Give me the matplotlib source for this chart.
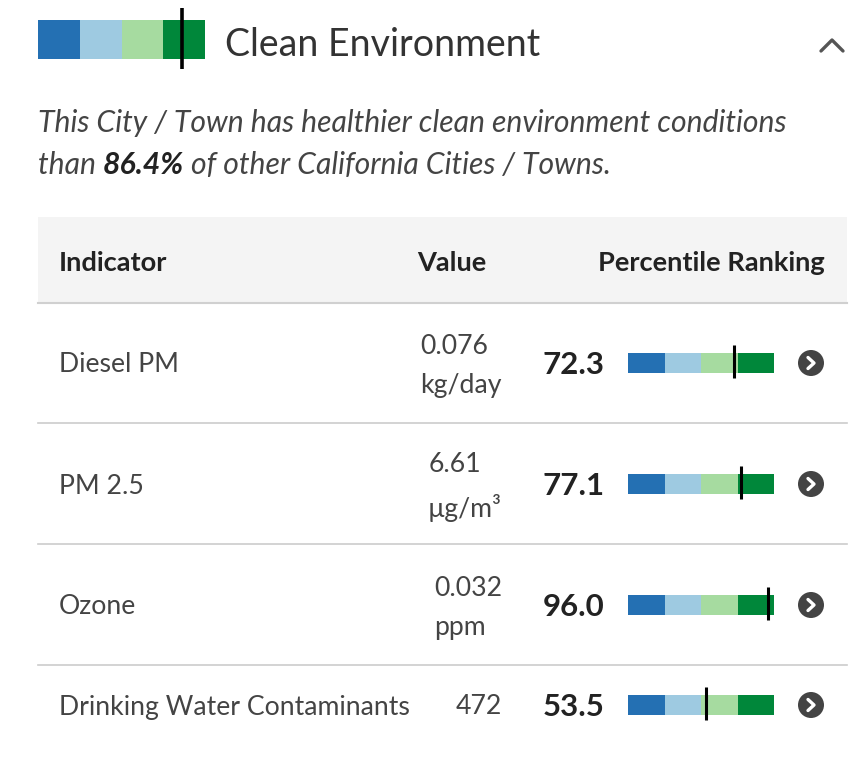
import matplotlib
matplotlib.use("Agg")
import matplotlib.pyplot as plt
from matplotlib.patches import Rectangle, Circle
from matplotlib.lines import Line2D

plt.rcParams['font.family'] = ['Lato', 'DejaVu Sans']

# ---- data ----
title = "Clean Environment"
overall_pct = 86.4
indicators = ["Diesel PM", "PM 2.5", "Ozone", "Drinking Water Contaminants"]
values = ["0.076", "6.61", "0.032", "472"]
units = ["kg/day", "µg/m³", "ppm", ""]
percentiles = [72.3, 77.1, 96.0, 53.5]
seg_colors = ["#2470b3", "#9ecae1", "#a6dba0", "#00873a"]

W, H = 865, 772
fig = plt.figure(figsize=(W / 100, H / 100), dpi=100)
ax = fig.add_axes([0, 0, 1, 1])
ax.set_xlim(0, W)
ax.set_ylim(H, 0)
ax.axis("off")

def pbar(x0, y0, w, h, pct, my0, my1, lw):
    sw = w / 4
    for i, c in enumerate(seg_colors):
        ax.add_patch(Rectangle((x0 + i * sw, y0), sw, h, facecolor=c, edgecolor="none"))
    mx = x0 + w * pct / 100
    ax.add_line(Line2D([mx, mx], [my0, my1], color="black", lw=lw, solid_capstyle="butt"))

# header bar
pbar(38, 20, 167, 39, overall_pct, 8, 69, 2.6)
ax.text(225, 45, title, fontsize=27, color="#333333", va="center", ha="left")
ax.plot([821, 832, 843], [51, 40, 51], color="#555555", lw=2.4, solid_capstyle="round")

# description
DS = 21.7
ax.text(38, 123, "This City / Town has healthier clean environment conditions",
        fontsize=DS, style="italic", color="#444444", va="center", ha="left")
t1 = ax.text(38, 165, "than ", fontsize=DS, style="italic", color="#444444", va="center", ha="left")
fig.canvas.draw()
r = fig.canvas.get_renderer()
bb = t1.get_window_extent(r)
t2 = ax.annotate(f"{overall_pct}%", xy=(bb.x1, H - 165), xycoords="figure pixels",
                 fontsize=DS, style="italic", weight="bold", color="#222222", va="center", ha="left")
bb2 = t2.get_window_extent(r)
ax.annotate(" of other California Cities / Towns.", xy=(bb2.x1, H - 165), xycoords="figure pixels",
            fontsize=DS, style="italic", color="#444444", va="center", ha="left")

# table header
ax.add_patch(Rectangle((38, 217), 809, 85, facecolor="#f4f4f4", edgecolor="none"))
ax.plot([38, 847], [303, 303], color="#d0d0d0", lw=1.5)
HS = 19.6
ax.text(59, 263, "Indicator", fontsize=HS, weight="bold", color="#222222", va="center")
ax.text(486, 263, "Value", fontsize=HS, weight="bold", color="#222222", va="center", ha="right")
ax.text(825, 263, "Percentile Ranking", fontsize=HS, weight="bold", color="#222222", va="center", ha="right")

RS = 19.2
row_h = 121
for i, (name, val, unit, pct) in enumerate(zip(indicators, values, units, percentiles)):
    yc = 363 + i * row_h if i < 3 else 705
    ax.text(59, yc + 2, name, fontsize=RS, color="#444444", va="center", ha="left")
    if unit:
        ax.text(502, yc + 3, f"{val}\n{unit}", fontsize=RS, color="#444444", va="center", ha="right",
                multialignment="left", linespacing=1.7)
    else:
        ax.text(502, yc + 2, val, fontsize=RS, color="#444444", va="center", ha="right")
    ax.text(605, yc + 2, f"{pct:.1f}", fontsize=22.5, weight="bold", color="#222222", va="center", ha="right")
    pbar(628, yc - 10, 146, 20, pct, yc - 18, yc + 15, 2.2)
    ax.add_patch(Circle((811, yc), 13, facecolor="#444444", edgecolor="none"))
    ax.plot([808, 814, 808], [yc - 5.5, yc, yc + 5.5], color="white", lw=2.4,
            solid_capstyle="round", solid_joinstyle="round")
    if i < 3:
        ax.plot([38, 847], [yc + 60, yc + 60], color="#cccccc", lw=1.2)

fig.savefig("out.png", dpi=100, facecolor="white")
